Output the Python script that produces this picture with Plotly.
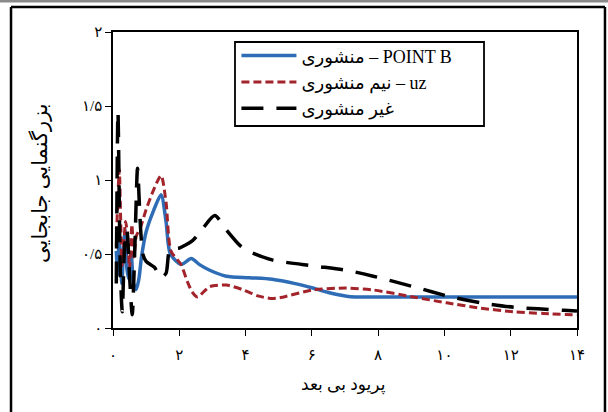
import plotly.graph_objects as go

# ---- data ----
x_prismatic = [0.10, 0.14, 0.18, 0.22, 0.27, 0.32, 0.37, 0.42, 0.48, 0.55, 0.62, 0.70, 0.78, 0.86, 1.00,
               1.20, 1.45, 1.60, 1.73, 2.06, 2.36, 2.60, 2.92, 3.42, 4.12, 4.80, 5.50, 6.03, 6.50, 7.05,
               7.30, 8.00, 10.0, 12.0, 14.0]
y_prismatic = [0.52, 0.36, 0.62, 0.45, 0.30, 0.56, 0.66, 0.40, 0.33, 0.50, 0.30, 0.26, 0.33, 0.48, 0.65,
               0.78, 0.90, 0.72, 0.50, 0.43, 0.47, 0.43, 0.39, 0.35, 0.34, 0.33, 0.30, 0.27, 0.24, 0.215,
               0.21, 0.21, 0.21, 0.21, 0.21]

x_semi = [0.10, 0.14, 0.19, 0.23, 0.27, 0.32, 0.38, 0.44, 0.50, 0.57, 0.63, 0.70, 0.83, 1.00, 1.20,
          1.45, 1.60, 1.75, 2.05, 2.25, 2.40, 2.55, 2.92, 3.42, 3.90, 4.40, 4.75, 5.03, 6.03, 7.04,
          7.85, 9.05, 10.07, 11.07, 12.07, 13.0, 14.0]
y_semi = [0.55, 0.85, 1.07, 0.75, 0.42, 0.55, 0.72, 0.62, 0.40, 0.70, 0.48, 0.62, 0.68, 0.80, 0.92,
          1.03, 0.85, 0.52, 0.43, 0.31, 0.24, 0.21, 0.28, 0.29, 0.26, 0.215, 0.20, 0.205, 0.257, 0.27,
          0.257, 0.21, 0.17, 0.135, 0.11, 0.098, 0.088]

x_nonprismatic = [0.10, 0.15, 0.22, 0.28, 0.35, 0.42, 0.50, 0.58, 0.66, 0.74, 0.82, 0.90, 1.00, 1.25,
                  1.45, 1.60, 1.72, 2.00, 2.40, 2.70, 3.07, 3.43, 3.82, 4.07, 4.80, 6.03, 7.05, 7.85,
                  9.05, 10.2, 11.1, 12.1, 13.6, 14.0]
y_nonprismatic = [0.30, 1.46, 0.40, 0.11, 0.55, 0.66, 0.35, 0.09, 0.55, 1.08, 0.72, 0.50, 0.45, 0.41,
                  0.34, 0.37, 0.53, 0.54, 0.59, 0.67, 0.76, 0.66, 0.56, 0.52, 0.46, 0.42, 0.39, 0.35,
                  0.28, 0.21, 0.17, 0.14, 0.12, 0.115]

names = ["منشوری – POINT B", "نیم منشوری – uz", "غیر منشوری"]

x_tickvals = [0, 2, 4, 6, 8, 10, 12, 14]
x_ticktext = ["۰", "۲", "۴", "۶", "۸", "۱۰", "۱۲", "۱۴"]
y_tickvals = [0, 0.5, 1, 1.5, 2]
y_ticktext = ["۰", "۰/۵", "۱", "۱/۵", "۲"]

x_title = "پریود بی بعد"
y_title = "بزرگنمایی جابجایی"

FONT = "Liberation Serif, DejaVu Sans, serif"

fig = go.Figure()
fig.add_trace(go.Scatter(x=x_prismatic, y=y_prismatic, mode="lines", name=names[0],
                         line=dict(color="#2E6DB6", width=3.5, shape="spline", smoothing=0.7)))
fig.add_trace(go.Scatter(x=x_semi, y=y_semi, mode="lines", name=names[1],
                         line=dict(color="#A3232B", width=3, dash="8px,4px", shape="spline", smoothing=0.7)))
fig.add_trace(go.Scatter(x=x_nonprismatic, y=y_nonprismatic, mode="lines", name=names[2],
                         line=dict(color="#000000", width=3.5, dash="22px,13px", shape="spline", smoothing=0.7)))

# outer frame of the figure (four sides) and the grey rule at the very top
frame = dict(color="black", width=2.5)
fig.add_shape(type="line", xref="paper", yref="paper", x0=-0.2198, x1=1.0603, y0=1.0845, y1=1.0845, line=frame)
fig.add_shape(type="line", xref="paper", yref="paper", x0=-0.2198, x1=-0.2198, y0=-0.40, y1=1.0845, line=frame)
fig.add_shape(type="line", xref="paper", yref="paper", x0=1.0603, x1=1.0603, y0=-0.40, y1=1.0845, line=frame)
fig.add_shape(type="line", xref="paper", yref="paper", x0=-0.30, x1=1.10, y0=1.104, y1=1.104,
              line=dict(color="#8a8a8a", width=2.5))
# legend frame (drawn as a box behind the legend entries)
fig.add_shape(type="rect", xref="paper", yref="paper", x0=0.2629, x1=0.7996, y0=0.6824, y1=0.9662,
              line=dict(color="black", width=1.8), fillcolor="white", layer="above")

# axis titles as annotations
fig.add_annotation(text=x_title, xref="paper", yref="paper", x=0.4978, y=-0.1926,
                   xanchor="center", yanchor="middle", showarrow=False,
                   font=dict(family=FONT, size=17, color="black"))
fig.add_annotation(text=y_title, xref="paper", yref="paper", x=-0.1573, y=0.49, textangle=-90,
                   xanchor="center", yanchor="middle", showarrow=False,
                   font=dict(family=FONT, size=21, color="black"))

fig.update_layout(
    width=608, height=412,
    margin=dict(l=113, r=31, t=32, b=84, autoexpand=False),
    paper_bgcolor="white", plot_bgcolor="white",
    font=dict(family=FONT, size=15, color="black"),
    showlegend=True,
    legend=dict(x=0.266, y=0.982, xanchor="left", yanchor="top",
                bgcolor="rgba(0,0,0,0)", borderwidth=0,
                font=dict(family=FONT, size=18, color="black"),
                itemwidth=55, traceorder="normal"),
    xaxis=dict(range=[0, 14], tickmode="array", tickvals=x_tickvals, ticktext=x_ticktext,
               showgrid=False, zeroline=False, showline=True, linecolor="black", linewidth=1.5,
               mirror=True, ticks="outside", ticklen=6, tickwidth=1.2, tickcolor="black",
               ticklabelstandoff=6, automargin=False),
    yaxis=dict(range=[0, 2], tickmode="array", tickvals=y_tickvals, ticktext=y_ticktext,
               showgrid=False, zeroline=False, showline=True, linecolor="black", linewidth=1.5,
               mirror=True, ticks="outside", ticklen=6, tickwidth=1.2, tickcolor="black",
               automargin=False),
)

fig.write_html("out.html", config={"displayModeBar": False},
               post_script="document.body.style.margin='0px';")
